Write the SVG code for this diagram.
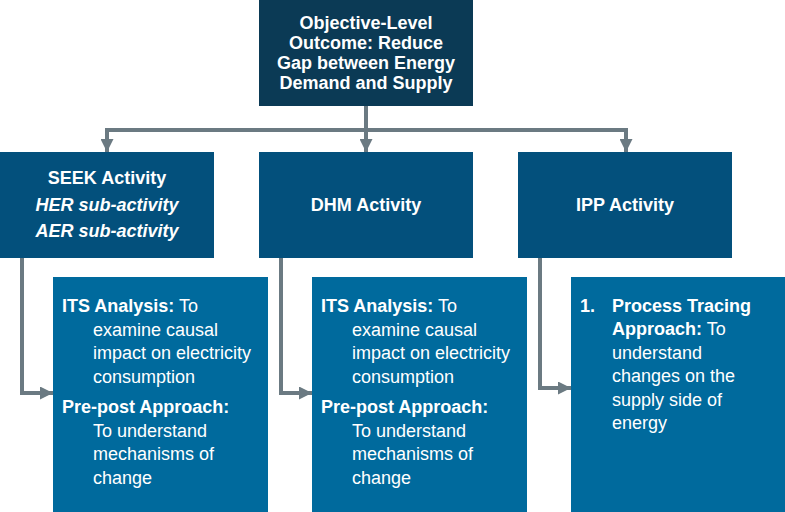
<svg xmlns="http://www.w3.org/2000/svg" width="785" height="512" viewBox="0 0 785 512">
<style>
text{font-family:"Liberation Sans",Arial,sans-serif;fill:#ffffff;font-size:18px}
.b{font-weight:bold}
.bi{font-weight:bold;font-style:italic}
.top{fill:#0b3a55}
.mid{fill:#03507c}
.bot{fill:#006a9d}
.conn{stroke:#6b7a82;stroke-width:4;fill:none}
</style>
<defs>
<marker id="ah" viewBox="0 0 10 10" refX="10" refY="5" markerWidth="13" markerHeight="13" markerUnits="userSpaceOnUse" orient="auto">
<path d="M0,0 L10,5 L0,10 z" fill="#6b7a82"/>
</marker>
</defs>
<rect width="785" height="512" fill="#ffffff"/>
<g id="connectors">
<path class="conn" d="M107,130 L626,130"/>
<path class="conn" d="M366,106 L366,152" marker-end="url(#ah)"/>
<path class="conn" d="M107,128 L107,152" marker-end="url(#ah)"/>
<path class="conn" d="M626,128 L626,152" marker-end="url(#ah)"/>
<path class="conn" d="M22,258 L22,393 L53,393" marker-end="url(#ah)"/>
<path class="conn" d="M281,258 L281,393 L312,393" marker-end="url(#ah)"/>
<path class="conn" d="M540,258 L540,388 L571,388" marker-end="url(#ah)"/>
</g>
<g id="objective">
<rect class="top" x="259" y="0" width="214" height="106"/>
<text class="b" text-anchor="middle" x="366" y="29">Objective-Level</text>
<text class="b" text-anchor="middle" x="366" y="49">Outcome: Reduce</text>
<text class="b" text-anchor="middle" x="366" y="69">Gap between Energy</text>
<text class="b" text-anchor="middle" x="366" y="89">Demand and Supply</text>
</g>
<g id="seek">
<rect class="mid" x="0" y="152" width="214" height="106"/>
<text class="b" text-anchor="middle" x="107" y="184">SEEK Activity</text>
<text class="bi" text-anchor="middle" x="107" y="211">HER sub-activity</text>
<text class="bi" text-anchor="middle" x="107" y="237">AER sub-activity</text>
</g>
<g id="dhm">
<rect class="mid" x="259" y="152" width="214" height="106"/>
<text class="b" text-anchor="middle" x="366" y="211">DHM Activity</text>
</g>
<g id="ipp">
<rect class="mid" x="518" y="152" width="214" height="106"/>
<text class="b" text-anchor="middle" x="625" y="211">IPP Activity</text>
</g>
<g id="seek-methods">
<rect class="bot" x="53" y="277" width="215" height="235"/>
<text x="62" y="312"><tspan class="b">ITS Analysis:</tspan> To</text>
<text x="93" y="335.5">examine causal</text>
<text x="93" y="359">impact on electricity</text>
<text x="93" y="382.5">consumption</text>
<text class="b" x="62" y="413">Pre-post Approach:</text>
<text x="93" y="436.5">To understand</text>
<text x="93" y="460">mechanisms of</text>
<text x="93" y="483.5">change</text>
</g>
<g id="dhm-methods">
<rect class="bot" x="312" y="277" width="215" height="235"/>
<text x="321" y="312"><tspan class="b">ITS Analysis:</tspan> To</text>
<text x="352" y="335.5">examine causal</text>
<text x="352" y="359">impact on electricity</text>
<text x="352" y="382.5">consumption</text>
<text class="b" x="321" y="413">Pre-post Approach:</text>
<text x="352" y="436.5">To understand</text>
<text x="352" y="460">mechanisms of</text>
<text x="352" y="483.5">change</text>
</g>
<g id="ipp-methods">
<rect class="bot" x="571" y="277" width="214" height="235"/>
<text class="b" x="580" y="311.5">1.</text>
<text class="b" x="612" y="311.5">Process Tracing</text>
<text x="612" y="335"><tspan class="b">Approach:</tspan> To</text>
<text x="612" y="358.5">understand</text>
<text x="612" y="382">changes on the</text>
<text x="612" y="405.5">supply side of</text>
<text x="612" y="429">energy</text>
</g>
</svg>
